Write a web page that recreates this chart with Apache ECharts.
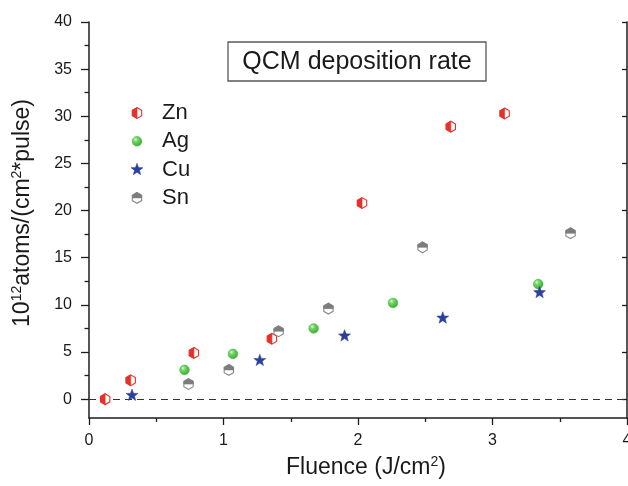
<!DOCTYPE html>
<html>
<head>
<meta charset="utf-8">
<script src="https://cdn.jsdelivr.net/npm/echarts@6/dist/echarts.min.js"></script>
<style>
  html, body { margin: 0; padding: 0; background: #ffffff; }
  #chart { width: 628px; height: 486px; }
</style>
</head>
<body>
<div id="chart"></div>
<script>
// Deposition rate (10^12 atoms / (cm^2 * pulse)) against laser fluence (J/cm^2)
const znFluence = [0.12, 0.31, 0.78, 1.36, 2.03, 2.69, 3.09];
const znRate    = [0.0, 2.0, 4.9, 6.4, 20.8, 28.9, 30.3];

const agFluence = [0.71, 1.07, 1.67, 2.26, 3.34];
const agRate    = [3.1, 4.8, 7.5, 10.2, 12.2];

const cuFluence = [0.32, 1.27, 1.90, 2.63, 3.35];
const cuRate    = [0.4, 4.1, 6.7, 8.6, 11.3];

const snFluence = [0.74, 1.04, 1.41, 1.78, 2.48, 3.58];
const snRate    = [1.6, 3.1, 7.2, 9.6, 16.1, 17.6];

const seriesNames = ['Zn', 'Ag', 'Cu', 'Sn'];
const yMajorTicks = [0, 5, 10, 15, 20, 25, 30, 35, 40];
const yMinorTicks = [2.5, 7.5, 12.5, 17.5, 22.5, 27.5, 32.5, 37.5];
const xTicks = [0, 1, 2, 3, 4];

const FONT = '"Liberation Sans", Arial, Helvetica, sans-serif';
const AXIS_COLOR = '#1e1e1e';
const TEXT_COLOR = '#1a1a1a';

const pairs = (xs, ys) => xs.map((x, i) => [x, ys[i]]);

// ---- marker builders: each returns graphic children centred on (cx, cy) ----
function hexPts(cx, cy, r) {
  const pts = [];
  for (let i = 0; i < 6; i++) {
    const a = Math.PI / 180 * (60 * i - 90);
    pts.push([cx + r * Math.cos(a), cy + r * Math.sin(a)]);
  }
  return pts;
}

function znMarker(cx, cy) {
  const r = 5.4, c = '#e8302a';
  const p = hexPts(cx, cy, r);
  return [
    { type: 'polygon', shape: { points: p }, style: { fill: '#ffffff', stroke: c, lineWidth: 1.1 } },
    { type: 'polygon', shape: { points: [p[0], p[3], p[4], p[5]] }, style: { fill: c, stroke: c, lineWidth: 0.6 } }
  ];
}

function snMarker(cx, cy) {
  const r = 5.4, c = '#7d7d7d';
  const p = hexPts(cx, cy, r);
  const w = r * Math.cos(Math.PI / 6);
  return [
    { type: 'polygon', shape: { points: p }, style: { fill: '#ffffff', stroke: '#8a8a8a', lineWidth: 1.1 } },
    { type: 'polygon', shape: { points: [[cx - w, cy], p[5], p[0], p[1], [cx + w, cy]] }, style: { fill: c, stroke: c, lineWidth: 0.6 } }
  ];
}

function agMarker(cx, cy) {
  return [{
    type: 'circle',
    shape: { cx: cx, cy: cy, r: 4.8 },
    style: {
      fill: {
        type: 'radial', x: 0.36, y: 0.32, r: 0.75,
        colorStops: [
          { offset: 0, color: '#e6fadf' },
          { offset: 0.28, color: '#74d866' },
          { offset: 1, color: '#33a82c' }
        ]
      },
      stroke: '#3fb23a', lineWidth: 0.6
    }
  }];
}

function cuMarker(cx, cy) {
  const pts = [];
  for (let k = 0; k < 10; k++) {
    const a = Math.PI / 180 * (-90 + 36 * k);
    const rr = k % 2 === 0 ? 6.3 : 2.6;
    pts.push([cx + rr * Math.cos(a), cy + rr * Math.sin(a)]);
  }
  return [{ type: 'polygon', shape: { points: pts }, style: { fill: '#2a3f9f', stroke: '#2a3f9f', lineWidth: 0.5 } }];
}

const markerFns = { Zn: znMarker, Ag: agMarker, Cu: cuMarker, Sn: snMarker };

function renderWith(fn) {
  return function (params, api) {
    const pt = api.coord([api.value(0), api.value(1)]);
    return { type: 'group', children: fn(pt[0], pt[1]) };
  };
}

function markerSeries(name, data, extra) {
  return Object.assign({
    name: name,
    type: 'custom',
    xAxisIndex: 0,
    yAxisIndex: 0,
    data: data,
    encode: { x: 0, y: 1 },
    renderItem: renderWith(markerFns[name]),
    z: 3
  }, extra || {});
}

// ---- legend and title box drawn as graphics ----
const legendX = 137, legendTextX = 162, legendY0 = 113, legendStep = 28.3;
const legendGraphics = [];
seriesNames.forEach((name, i) => {
  const y = legendY0 + i * legendStep;
  legendGraphics.push({ type: 'group', children: markerFns[name](legendX, y) });
  legendGraphics.push({
    type: 'text',
    style: { x: legendTextX, y: y, text: name, fill: TEXT_COLOR, font: '22px ' + FONT, textVerticalAlign: 'middle', textAlign: 'left' }
  });
});

const titleGraphics = [
  { type: 'rect', shape: { x: 228, y: 42, width: 258, height: 39 }, style: { fill: '#ffffff', stroke: '#5a5a5a', lineWidth: 1.3 }, z: 10 },
  { type: 'text', style: { x: 357, y: 62, text: 'QCM deposition rate', fill: TEXT_COLOR, font: '25px ' + FONT, textAlign: 'center', textVerticalAlign: 'middle' }, z: 11 }
];

const nameRich = {
  a: { fontSize: 23, fontFamily: FONT, color: TEXT_COLOR, lineHeight: 25 },
  s: { fontSize: 14, fontFamily: FONT, color: TEXT_COLOR, verticalAlign: 'top' }
};

const yCommon = { type: 'value', min: -2, max: 40, splitLine: { show: false } };

const option = {
  backgroundColor: '#ffffff',
  animation: false,
  grid: { left: 89, right: 1, top: 22, bottom: 68, containLabel: false, outerBoundsMode: 'none' },
  xAxis: {
    type: 'value',
    min: 0, max: 4, interval: 1,
    name: '{a|Fluence (J/cm}{s|2}{a|)}',
    nameLocation: 'middle',
    nameGap: 37,
    nameTextStyle: { rich: nameRich, padding: [0, 0, 0, 16] },
    axisLine: { show: true, onZero: false, lineStyle: { color: AXIS_COLOR, width: 1.5 } },
    axisTick: { show: true, inside: false, length: 7, customValues: xTicks, lineStyle: { color: AXIS_COLOR, width: 1.3 } },
    minorTick: { show: true, splitNumber: 2, length: 4, lineStyle: { color: AXIS_COLOR, width: 1.3 } },
    axisLabel: { show: true, margin: 15, customValues: xTicks, fontSize: 16, fontFamily: FONT, color: TEXT_COLOR, showMaxLabel: true, hideOverlap: false },
    splitLine: { show: false }
  },
  yAxis: [
    Object.assign({}, yCommon, {
      position: 'left',
      name: '{a|10}{s|12}{a|atoms/(cm}{s|2}{a|*pulse)}',
      nameLocation: 'middle',
      nameRotate: 90,
      nameGap: 54,
      nameTextStyle: { rich: nameRich, padding: [0, 0, 0, 14] },
      axisLine: { show: true, onZero: false, lineStyle: { color: AXIS_COLOR, width: 1.5 } },
      axisTick: { show: true, inside: false, length: 8, customValues: yMajorTicks, lineStyle: { color: AXIS_COLOR, width: 1.3 } },
      axisLabel: { show: true, margin: 17, customValues: yMajorTicks, fontSize: 16, fontFamily: FONT, color: TEXT_COLOR }
    }),
    Object.assign({}, yCommon, {
      position: 'left',
      axisLine: { show: false },
      axisTick: { show: true, inside: false, length: 4.5, customValues: yMinorTicks, lineStyle: { color: AXIS_COLOR, width: 1.3 } },
      axisLabel: { show: false }
    }),
    Object.assign({}, yCommon, {
      position: 'right',
      axisLine: { show: true, onZero: false, lineStyle: { color: AXIS_COLOR, width: 1.5 } },
      axisTick: { show: true, inside: true, length: 5, customValues: yMajorTicks, lineStyle: { color: AXIS_COLOR, width: 1.3 } },
      axisLabel: { show: false }
    })
  ],
  series: [
    markerSeries('Zn', pairs(znFluence, znRate), {
      markLine: {
        silent: true,
        symbol: 'none',
        z: 1,
        label: { show: false },
        lineStyle: { color: '#333333', width: 1.2, type: [7, 5] },
        data: [{ yAxis: 0 }]
      }
    }),
    markerSeries('Ag', pairs(agFluence, agRate)),
    markerSeries('Cu', pairs(cuFluence, cuRate)),
    markerSeries('Sn', pairs(snFluence, snRate))
  ],
  graphic: legendGraphics.concat(titleGraphics)
};

const chart = echarts.init(document.getElementById('chart'), null, { renderer: 'canvas' });
chart.setOption(option);
</script>
</body>
</html>
